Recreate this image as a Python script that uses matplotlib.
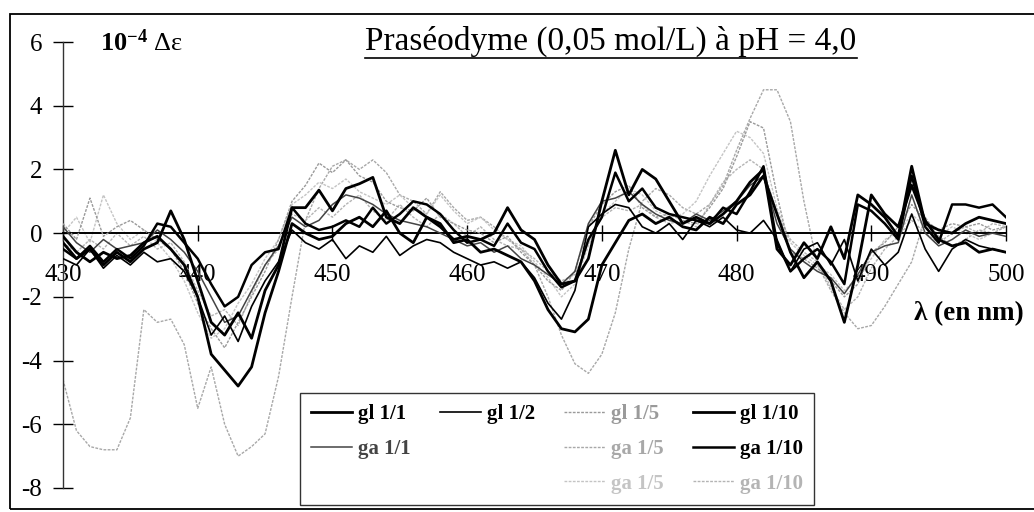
import matplotlib
matplotlib.use('Agg')
import matplotlib.pyplot as plt
from matplotlib.lines import Line2D
from matplotlib.patches import Rectangle

plt.rcParams['font.family'] = ['Liberation Serif', 'DejaVu Serif']
plt.rcParams['mathtext.fontset'] = 'custom'
plt.rcParams['mathtext.rm'] = 'Liberation Serif'
plt.rcParams['mathtext.bf'] = 'Liberation Serif:bold'
plt.rcParams['mathtext.it'] = 'Liberation Serif:italic'

# ---------------- data ----------------
wavelengths = list(range(430, 501))

gl_1_1 = [-0.3, -0.8, -0.5, -1.0, -0.6, -0.9, -0.5, -0.3, 0.7, -0.2,
          -1.5, -2.8, -3.2, -2.5, -3.3, -1.8, -1.0, 0.8, 0.8, 1.35,
          0.7, 1.4, 1.55, 1.75, 0.5, 0.3, 0.8, 0.5, 0.2, -0.2,
          -0.1, -0.2, 0.0, 0.8, 0.1, -0.2, -1.0, -1.6, -1.5, -0.8,
          1.0, 2.6, 1.2, 2.0, 1.7, 1.0, 0.3, 0.5, 0.3, 0.6,
          1.0, 1.6, 2.0, -0.5, -1.0, -0.3, -0.8, 0.2, -0.8, 1.2,
          0.9, 0.5, -0.1, 2.1, 0.3, 0.1, 0.0, 0.3, 0.5, 0.4, 0.3]

gl_1_2 = [-0.8, -1.0, -0.5, -1.1, -0.7, -1.0, -0.6, -0.9, -0.8, -1.2,
          -2.0, -3.2, -2.6, -3.4, -2.3, -1.5, -0.9, 0.1, -0.3, -0.5,
          -0.2, -0.8, -0.4, -0.6, -0.1, -0.7, -0.4, -0.2, -0.3, -0.6,
          -0.8, -1.0, -0.9, -1.1, -0.9, -1.4, -2.2, -2.7, -1.8, 0.2,
          0.6, 0.9, 0.8, 0.2, 0.0, 0.3, -0.2, 0.4, 0.2, 0.5,
          0.1, 0.0, 0.4, -0.2, -1.2, -0.5, -0.3, -1.0, -0.2, -1.5,
          -0.5, -1.0, -0.6, 0.6, -0.5, -1.2, -0.5, -0.2, -0.4, -0.5, -0.6]

gl_1_5 = [0.3, -0.2, 1.1, -0.1, 0.2, 0.4, 0.1, -0.2, -0.5, -1.2,
          -2.2, -3.0, -3.6, -2.8, -2.0, -1.2, -0.2, 1.0, 1.5, 2.2,
          1.9, 2.3, 1.8, 1.6, 1.0, 0.8, 0.7, 1.1, 0.5, 0.3,
          0.1, 0.0, -0.3, -0.1, -0.6, -1.0, -1.5, -1.8, -1.2, 0.2,
          0.9, 1.3, 1.5, 0.8, 0.5, 0.6, 0.4, 0.3, 0.8, 1.4,
          2.4, 3.5, 3.3, 1.2, -0.6, -0.8, -1.1, -1.5, -2.0, -1.6,
          -0.6, -0.3, 0.2, 0.9, 0.4, 0.1, 0.3, 0.2, 0.3, 0.1, 0.2]

gl_1_10 = [-0.1, -0.6, -0.9, -0.6, -0.8, -0.7, -0.3, -0.1, -0.5, -1.0,
           -2.0, -3.8, -4.3, -4.8, -4.2, -2.5, -1.2, 0.3, 0.0, -0.2,
           -0.1, 0.3, 0.5, 0.2, 0.7, 0.0, -0.3, 0.5, 0.3, -0.3,
           -0.2, -0.6, -0.5, -0.7, -0.9, -1.5, -2.4, -3.0, -3.1, -2.7,
           -1.0, -0.3, 0.4, 0.6, 0.3, 0.5, 0.2, 0.1, 0.5, 0.3,
           0.9, 1.2, 1.8, 0.6, -0.6, -1.4, -0.9, -1.5, -2.8, -1.0,
           1.2, 0.6, 0.2, 1.5, 0.4, -0.2, -0.4, -0.3, -0.6, -0.5, -0.6]

ga_1_1 = [0.2, -0.3, -0.6, -0.2, -0.5, -0.4, -0.3, 0.1, -0.2, -0.6,
          -1.2, -2.0, -2.8, -2.6, -1.8, -1.0, -0.4, 0.5, 0.2, 0.4,
          0.9, 1.2, 1.1, 0.9, 0.6, 0.4, 0.3, 0.2, 0.0, -0.2,
          -0.4, -0.3, -0.6, -0.4, -0.8, -1.0, -1.3, -1.6, -1.2, 0.3,
          1.0, 1.1, 1.3, 0.9, 0.6, 0.4, 0.3, 0.6, 0.4, 0.7,
          1.0, 1.5, 1.8, 0.3, -0.5, -0.9, -1.2, -1.4, -1.9, -1.3,
          -0.6, -0.4, -0.3, 1.2, 0.0, -0.4, -0.2, 0.1, -0.1, 0.0, -0.1]

ga_1_5 = [-4.6, -6.2, -6.7, -6.8, -6.8, -5.8, -2.4, -2.8, -2.7, -3.5,
          -5.5, -4.2, -6.0, -7.0, -6.7, -6.3, -4.5, -2.0, 0.4, 1.4,
          2.1, 2.3, 2.0, 2.3, 1.9, 1.2, 1.0, 0.6, 1.3, 0.8,
          0.4, 0.5, 0.2, -0.2, -0.5, -1.0, -2.0, -3.2, -4.1, -4.4,
          -3.8, -2.5, -0.5, 1.0, 1.4, 1.2, 0.8, 0.6, 0.9, 1.5,
          2.6, 3.6, 4.5, 4.5, 3.5, 1.0, -1.0, -1.8, -2.5, -3.0,
          -2.9, -2.3, -1.6, -0.9, 0.5, -0.1, -0.4, -0.2, 0.1, 0.0, 0.2]

ga_1_10 = [-0.5, -0.8, -0.4, -0.9, -0.5, -0.8, -0.4, 0.3, 0.2, -0.3,
           -0.8, -1.6, -2.3, -2.0, -1.0, -0.6, -0.5, 0.8, 0.3, 0.1,
           0.2, 0.4, 0.2, 0.8, 0.3, 0.6, 1.0, 0.9, 0.6, 0.1,
           -0.3, -0.2, -0.4, 0.3, -0.3, -0.5, -1.2, -1.7, -1.5, -0.2,
           0.5, 1.9, 1.0, 1.4, 0.8, 0.6, 0.5, 0.4, 0.3, 0.8,
           0.6, 1.3, 2.1, -0.3, -1.2, -0.8, -0.5, -0.9, -1.6, 0.9,
           0.7, 0.3, -0.2, 1.8, 0.2, -0.3, 0.9, 0.9, 0.8, 0.9, 0.5]

ga_1_5b = [0.0, 0.5, -0.3, 1.2, 0.3, -0.2, 0.1, -0.3, -0.8, -1.5,
           -2.5, -3.3, -3.0, -2.2, -1.6, -0.8, -0.2, 0.9, 1.2, 1.6,
           1.4, 1.7, 1.3, 1.1, 0.9, 1.2, 0.8, 0.6, 1.2, 0.7,
           0.3, 0.5, 0.1, -0.2, -0.4, -0.9, -1.4, -2.0, -1.6, -0.4,
           0.6, 1.0, 1.4, 1.2, 0.7, 0.5, 0.6, 1.0, 1.8, 2.5,
           3.2, 3.0, 2.5, 0.8, -0.3, -0.7, -1.0, -1.3, -1.8, -1.4,
           -0.8, -0.2, 0.0, 0.6, 0.2, -0.1, 0.2, 0.0, -0.2, 0.0, -0.1]

ga_1_10b = [-0.3, -0.6, -0.2, -0.5, 0.0, -0.4, -0.1, -0.5, -0.3, -0.9,
            -1.8, -2.6, -2.4, -2.9, -1.9, -1.0, -0.5, 0.6, 0.4, 0.8,
            0.5, 0.9, 1.2, 0.7, 0.4, 0.9, 0.5, 0.2, 0.6, 0.3,
            -0.1, 0.2, -0.2, -0.4, -0.5, -0.8, -1.2, -1.5, -1.3, -0.3,
            0.5, 0.8, 0.7, 0.9, 0.5, 0.3, 0.4, 0.2, 0.9, 1.6,
            2.0, 2.3, 2.0, 0.6, -0.2, -0.6, -0.9, -1.7, -2.4, -2.0,
            -1.1, -0.5, -0.1, 0.4, 0.0, -0.3, 0.0, 0.2, 0.0, 0.3, 0.2]

labels = ['gl 1/1', 'gl 1/2', 'gl 1/5', 'gl 1/10',
          'ga 1/1', 'ga 1/5', 'ga 1/10', 'ga 1/5', 'ga 1/10']
x_ticks = [430, 440, 450, 460, 470, 480, 490, 500]
y_ticks = [-8, -6, -4, -2, 0, 2, 4, 6]
title = 'Praséodyme (0,05 mol/L) à pH = 4,0'

# ---------------- figure ----------------
W, H = 1034, 512
fig = plt.figure(figsize=(W / 100, H / 100), dpi=100)
fig.patch.set_facecolor('white')

# outer chart frame
fig.add_artist(Rectangle((10 / W, 3 / H), 1.2, (H - 3 - 14) / H,
                         transform=fig.transFigure, fill=False,
                         edgecolor='black', linewidth=1.3))

ax = fig.add_axes([63 / W, 1 - 488 / H, (1006 - 63) / W, (488 - 42) / H])
ax.set_xlim(430, 500)
ax.set_ylim(-8, 6)
ax.patch.set_alpha(0)
for s in ['top', 'right']:
    ax.spines[s].set_visible(False)
ax.spines['bottom'].set_position(('data', 0))
ax.spines['bottom'].set_linewidth(1.4)
ax.spines['left'].set_linewidth(1.0)
ax.spines['left'].set_color('#333333')

ax.set_xticks(x_ticks)
ax.set_yticks(y_ticks)
ax.set_yticklabels([str(v) for v in y_ticks])
ax.tick_params(axis='y', direction='inout', length=14, width=1.0,
               labelsize=18, pad=8)
ax.tick_params(axis='x', direction='inout', length=12, width=1.0,
               labelsize=18, pad=16)

series = [gl_1_1, gl_1_2, gl_1_5, gl_1_10, ga_1_1, ga_1_5, ga_1_10, ga_1_5b, ga_1_10b]
styles = [
    dict(color='black', lw=2.0, ls='-', zorder=6),
    dict(color='black', lw=1.2, ls='-', zorder=5),
    dict(color='#9a9a9a', lw=1.0, ls=(0, (2, 1)), zorder=3),
    dict(color='black', lw=2.0, ls='-', zorder=6),
    dict(color='#444444', lw=1.1, ls='-', zorder=4),
    dict(color='#a8a8a8', lw=1.0, ls=(0, (2, 1)), zorder=2),
    dict(color='black', lw=1.8, ls='-', zorder=6),
    dict(color='#c4c4c4', lw=1.0, ls=(0, (2, 1)), zorder=2),
    dict(color='#b4b4b4', lw=1.0, ls=(0, (2, 1)), zorder=2),
]
handles = []
for vals, lab, st in zip(series, labels, styles):
    h, = ax.plot(wavelengths, vals, label=lab, **st)
    handles.append(h)

# axis titles
fig.text(100 / W, 1 - 51 / H, r'$\mathbf{10^{-4}}$ Δε', fontsize=19,
         ha='left', va='baseline')
fig.text(1024 / W, 1 - 320 / H, 'λ (en nm)', fontsize=19.5, fontweight='bold',
         ha='right', va='baseline')

t = fig.text(611 / W, 1 - 50 / H, title, fontsize=24, ha='center', va='baseline')
fig.canvas.draw()
bb = t.get_window_extent()
fig.add_artist(Line2D([bb.x0 / W, bb.x1 / W], [1 - 58 / H, 1 - 58 / H],
                      transform=fig.transFigure, color='black', lw=1.2))

# legend (Excel-like grid with empty cells)
blank = Line2D([], [], alpha=0)
order = [handles[0], handles[4], blank,
         handles[1], blank, blank,
         handles[2], handles[5], handles[7],
         handles[3], handles[6], handles[8]]
order_labels = [labels[0], labels[4], '',
                labels[1], '', '',
                labels[2], labels[5], labels[7],
                labels[3], labels[6], labels[8]]
text_colors = ['black', '#444444', 'black',
               'black', 'black', 'black',
               '#9a9a9a', '#a8a8a8', '#c4c4c4',
               'black', 'black', '#b4b4b4']
leg = fig.legend(order, order_labels, ncol=4, loc='upper left',
                 bbox_to_anchor=(300 / W, 1 - 393 / H),
                 prop={'family': 'Liberation Serif', 'weight': 'bold', 'size': 15},
                 frameon=True, fancybox=False, edgecolor='black',
                 handlelength=1.95, handletextpad=0.3, columnspacing=1.4,
                 labelspacing=0.7, borderpad=0.55, borderaxespad=0)
leg.get_frame().set_linewidth(1.0)
for txt, c in zip(leg.get_texts(), text_colors):
    txt.set_color(c)

fig.savefig('out.png', dpi=100, facecolor='white')
